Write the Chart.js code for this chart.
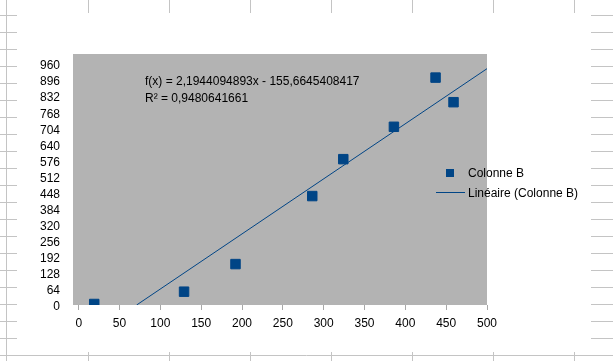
<!DOCTYPE html>
<html>
<head>
<meta charset="utf-8">
<script src="https://cdn.jsdelivr.net/npm/chart.js@4.4.0/dist/chart.umd.min.js"></script>
<style>
html, body { margin: 0; padding: 0; background: #fff; }
</style>
</head>
<body>
<canvas id="canvas" width="613" height="361"></canvas>
<script>
// data
var xValues = [19, 129, 192, 286, 324, 386, 437, 459];
var yValues = [4, 53, 163, 434, 581, 710, 906, 808];
var trendX = [70.9, 500];
var trendY = [0, 941.5];
var xTicks = [0, 50, 100, 150, 200, 250, 300, 350, 400, 450, 500];
var yTicks = [0, 64, 128, 192, 256, 320, 384, 448, 512, 576, 640, 704, 768, 832, 896, 960];
var seriesName = "Colonne B";
var trendName = "Linéaire (Colonne B)";
var equationText = "f(x) = 2,1944094893x - 155,6645408417";
var r2Text = "R² = 0,9480641661";

var FONT = "'Liberation Sans', Arial, sans-serif";
var BLUE = "#004586";

var points = [];
for (var i = 0; i < xValues.length; i++)
    points.push({x: xValues[i], y: yValues[i]});
var trend = [];
for (var i = 0; i < trendX.length; i++)
    trend.push({x: trendX[i], y: trendY[i]});

// spreadsheet cells around the chart + grey plot wall
var sheetBackground = {
    id: "sheetBackground",
    beforeDraw: function(chart) {
        var ctx = chart.ctx;
        ctx.save();
        ctx.fillStyle = "#fff";
        ctx.fillRect(0, 0, chart.width, chart.height);
        ctx.strokeStyle = "#c4c4c4";
        ctx.lineWidth = 1;
        ctx.beginPath();
        for (var y = 15.5; y < 350; y += 17) {
            ctx.moveTo(0, y); ctx.lineTo(17, y);
            ctx.moveTo(591, y); ctx.lineTo(613, y);
        }
        ctx.moveTo(0, 355.5); ctx.lineTo(613, 355.5);
        ctx.moveTo(6.5, 0); ctx.lineTo(6.5, 361);
        for (var x = 87.5; x < 613; x += 81) {
            ctx.moveTo(Math.round(x) + 0.5, 0); ctx.lineTo(Math.round(x) + 0.5, 13);
            ctx.moveTo(Math.round(x) + 0.5, 352); ctx.lineTo(Math.round(x) + 0.5, 361);
        }
        ctx.stroke();
        var a = chart.chartArea;
        ctx.fillStyle = "#b3b3b3";
        ctx.fillRect(a.left, a.top, a.right - a.left, a.bottom - a.top);
        ctx.restore();
    }
};

// equation text and legend
var overlay = {
    id: "overlay",
    afterDraw: function(chart) {
        var ctx = chart.ctx;
        ctx.save();
        ctx.font = "12px " + FONT;
        ctx.fillStyle = "#000";
        ctx.textBaseline = "middle";
        ctx.textAlign = "left";
        ctx.fillText(equationText, 145, 82);
        ctx.fillText(r2Text, 145, 99);

        var ds = chart.data.datasets;
        ctx.fillStyle = ds[0].backgroundColor;
        ctx.fillRect(446, 169, 8, 8);
        ctx.strokeStyle = ds[1].borderColor;
        ctx.lineWidth = 1;
        ctx.beginPath();
        ctx.moveTo(436, 192.5); ctx.lineTo(465, 192.5);
        ctx.stroke();
        ctx.fillStyle = "#000";
        ctx.fillText(ds[0].label, 468, 174);
        ctx.fillText(ds[1].label, 468, 194);
        ctx.restore();
    }
};

new Chart("canvas", {
    type: "scatter",
    data: {
        datasets: [{
            label: seriesName,
            data: points,
            pointStyle: "rect",
            pointRadius: 6.7,
            pointHoverRadius: 6.7,
            borderWidth: 1,
            backgroundColor: BLUE,
            borderColor: BLUE,
            order: 0
        }, {
            label: trendName,
            data: trend,
            showLine: true,
            pointRadius: 0,
            borderWidth: 1,
            borderColor: BLUE,
            backgroundColor: BLUE,
            order: 1
        }]
    },
    options: {
        responsive: false,
        animation: false,
        layout: { padding: { left: 0, top: 54, right: 126, bottom: 0 } },
        plugins: {
            legend: { display: false },
            tooltip: { enabled: false }
        },
        scales: {
            x: {
                type: "linear",
                min: -7,
                max: 500,
                afterBuildTicks: function(scale) {
                    scale.ticks = xTicks.map(function(v) { return {value: v}; });
                },
                afterFit: function(scale) { scale.height = 56; },
                border: { display: false },
                grid: { display: true, drawOnChartArea: false, drawTicks: true, tickLength: 5, color: "#a8a8a8" },
                ticks: { color: "#000", padding: 6, maxRotation: 0, autoSkip: false, font: { family: FONT, size: 12 } }
            },
            y: {
                type: "linear",
                min: 0,
                max: 1000,
                afterBuildTicks: function(scale) {
                    scale.ticks = yTicks.map(function(v) { return {value: v}; });
                },
                afterFit: function(scale) { scale.width = 73; },
                border: { display: false },
                grid: { display: false },
                ticks: { color: "#000", padding: 5, labelOffset: 2, autoSkip: false, font: { family: FONT, size: 12 } }
            }
        }
    },
    plugins: [sheetBackground, overlay]
});
</script>
</body>
</html>
